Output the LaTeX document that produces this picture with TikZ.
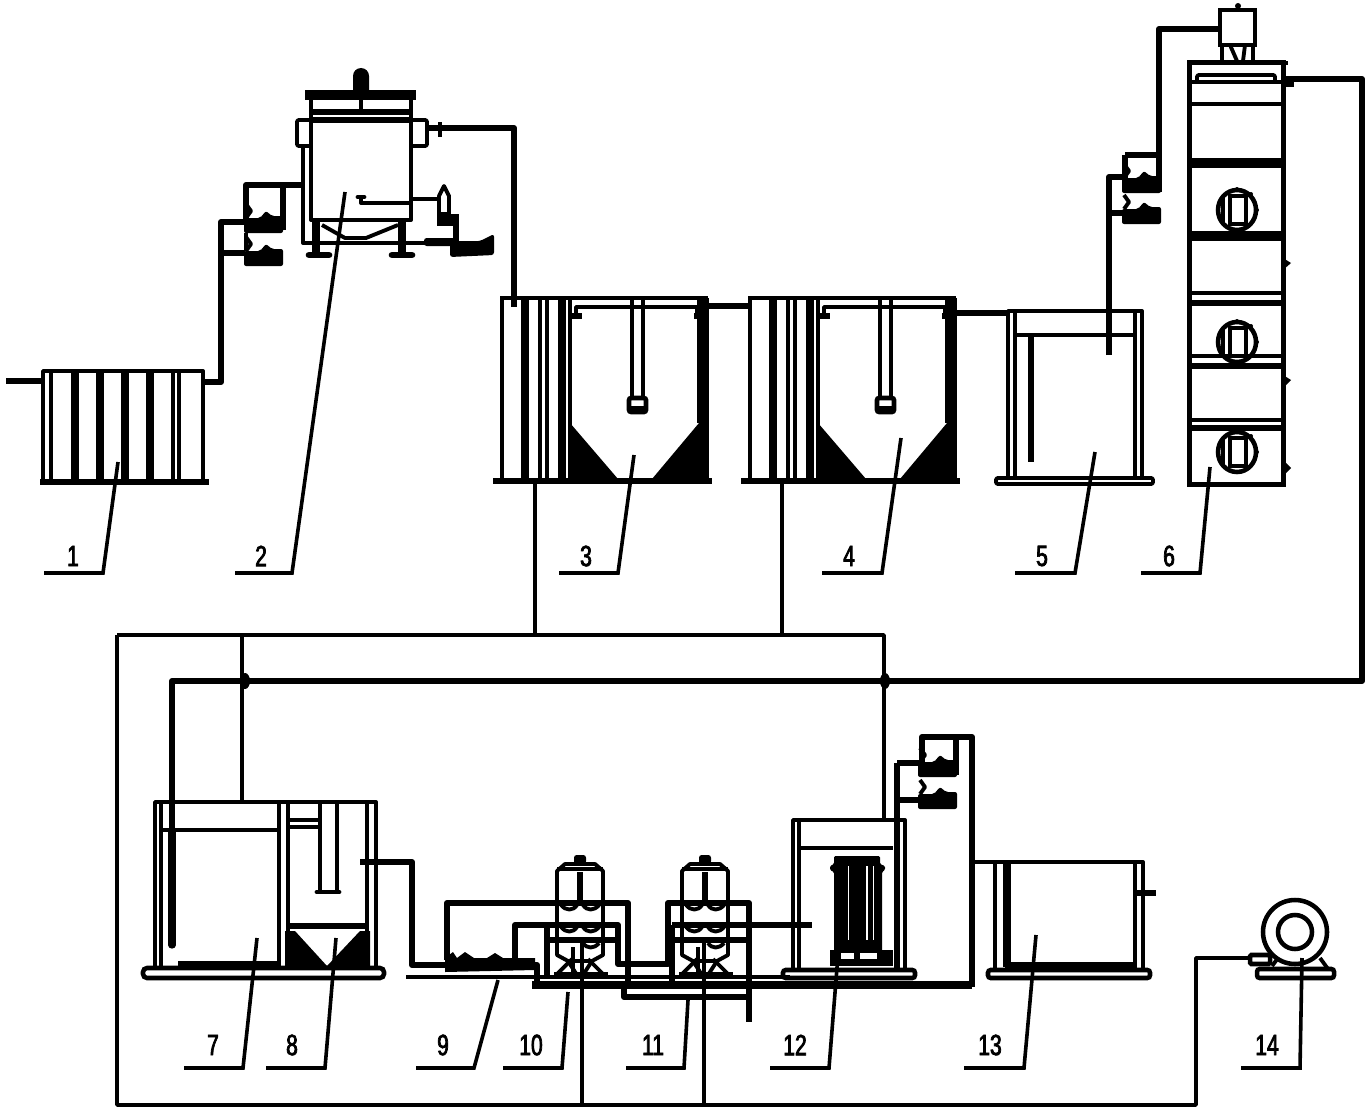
\documentclass[tikz,border=0pt]{standalone}
\usepackage{fontspec}
\newfontfamily\tagfont[FakeBold=2.5,FakeStretch=0.72]{Liberation Sans}

\tikzset{
  every pic/.style={yscale=-1},
  wall/.style={line width=2.9pt,line join=round},
  pipe/.style={line width=4.4pt,line join=round},
  heavy/.style={line width=6pt},
  netline/.style={line width=2.7pt,line join=round},
  leader/.style={line width=2.7pt},
  tag/.style={inner sep=0.75pt,font=\tagfont\fontsize{22}{22}\selectfont},
  settler/.pic={
    %Walls of the channel part
    \draw [wall] (0,0) -- (208,0) ;
    \draw [wall] (2,0) -- (2,183) ;
    \draw [heavy] (25,0) -- (25,183) ;
    \draw [wall] (40,0) -- (40,183) ;
    \draw [wall] (47,0) -- (47,183) ;
    \draw [heavy] (62,0) -- (62,183) ;
    \draw [wall] (70,0) -- (70,183) ;
    \draw [heavy] (205,0) -- (205,183) ;
    \draw [wall] (199,0) -- (199,125) ;
    %Hopper
    \fill (70,125) -- (118,181) -- (70,181) -- cycle ;
    \fill (199,125) -- (152,181) -- (207,181) -- (207,125) -- cycle ;
    %Launder
    \draw [wall] (76,19) -- (76,9) -- (197,9) -- (197,19) ;
    \draw [pipe] (72,18) -- (82,18) ;
    \draw [pipe] (194,18) -- (204,18) ;
    %Centre well
    \draw [wall] (132,0) -- (132,100) ;
    \draw [wall] (143,0) -- (143,100) ;
    \draw [line width=3.4pt,fill=white,rounded corners=1.5pt] (129,100) rectangle (146,114) ;
    \fill (129,108) rectangle (146,114) ;
    %Base
    \draw [line width=5pt] (-7,183) -- (212,183) ;
  },
  dosepump/.pic={
    \fill [rounded corners=1.5pt] (0,0) -- (16,0) -- (22,-7) -- (28,-2) -- (39,-2) -- (39,15) -- (0,15) -- cycle ;
    \draw [wall] (2,0) -- (7,-7) -- (2,-14) ;
  },
  mixdisc/.pic={
    \draw [line width=3.4pt] (0,0) ellipse (19 and 20) ;
    \draw [line width=3.4pt,fill=white] (-7,-14) rectangle (9,14) ;
    \draw [wall] (-14,-12) -- (-14,12) ;
    \fill (0,-21) circle (2) ;
    \fill (14,-16) circle (2) ;
    \fill (20,0) circle (2) ;
  },
  filtervessel/.pic={
    %Shell
    \draw [wall] (-23,0) -- (-23,-84) -- (-15,-91) -- (15,-91) -- (23,-84) -- (23,0) -- (12,6) -- (-12,6) -- cycle ;
    \draw [wall] (-23,-86) -- (23,-86) ;
    \fill [rounded corners=2pt] (-6,-100) rectangle (6,-91) ;
    \draw [pipe] (0,-83) -- (0,-54) ;
    %Ribs
    \draw [wall] (-19,-50) .. controls (-14,-44) and (-7,-44) .. (-3,-50) ;
    \draw [wall] (3,-50) .. controls (7,-44) and (14,-44) .. (19,-50) ;
    \draw [wall] (-19,-28) .. controls (-14,-22) and (-7,-22) .. (-3,-28) ;
    \draw [wall] (3,-28) .. controls (7,-22) and (14,-22) .. (19,-28) ;
    \draw [wall] (3,-12) .. controls (7,-6) and (14,-6) .. (19,-12) ;
    %Stand
    \draw [wall] (-8,4) -- (-24,20) ;
    \draw [wall] (8,4) -- (24,20) ;
    \draw [wall] (-12,6) -- (-3,20) ;
    \draw [wall] (12,6) -- (3,20) ;
    \draw [wall] (-26,19) -- (28,19) ;
    \draw [wall] (-7,-8) -- (-7,24) ;
  }
}

\begin{document}
\begin{tikzpicture}[x=0.75pt,y=0.75pt,yscale=-1,xscale=1]
\path [use as bounding box] (0,0) rectangle (1370,1113);

%Unit 1: screen
\draw [wall] (43,482) -- (43,371) -- (203,371) -- (203,482) ;
\draw [wall] (51,371) -- (51,482) ;
\draw [heavy] (75,371) -- (75,482) ;
\draw [heavy] (100,371) -- (100,482) ;
\draw [heavy] (125,371) -- (125,482) ;
\draw [heavy] (150,371) -- (150,482) ;
\draw [wall] (173,371) -- (173,482) ;
\draw [wall] (179,371) -- (179,482) ;
\draw [line width=5pt] (40,482) -- (209,482) ;
\draw [pipe] (6,381) -- (43,381) ;
\draw [pipe] (203,382) -- (221,382) -- (221,222) -- (245,222) ;
\draw [pipe] (221,253) -- (245,253) ;

%Unit 2: reactor with stirrer
\fill (353,92) -- (353,76) arc (180:360:8) -- (369,92) -- cycle ;
\draw [line width=8pt] (305,95) -- (416,95) ;
\draw [wall] (311,95) -- (311,220) -- (411,220) -- (411,95) ;
\draw [wall] (361,95) -- (361,112) ;
\draw [line width=4pt] (311,112) -- (411,112) ;
\draw [line width=5pt] (311,120) -- (411,120) ;
\draw [wall,rounded corners=1.5pt] (311,120) -- (297,120) -- (297,146) -- (311,146) ;
\draw [wall,rounded corners=1.5pt] (411,120) -- (427,120) -- (427,146) -- (411,146) ;
\draw [wall] (303,146) -- (303,243) -- (480,243) ;
\draw [heavy] (316,222) -- (316,255) ;
\draw [heavy] (402,222) -- (402,255) ;
\draw [line width=5pt,line cap=round] (309,255) -- (329,255) ;
\draw [line width=5pt,line cap=round] (392,255) -- (412,255) ;
\draw [wall] (322,225) -- (345,238) -- (366,238) -- (398,225) ;
\draw [pipe] (427,128) -- (514,128) -- (514,307) ;
\fill (438,122) rectangle (442,137) ;
\draw [wall] (411,203) -- (361,203) -- (361,198) ;
\draw [line width=3.6pt,line cap=round] (358,197) -- (364,197) ;
\draw [wall] (411,199) -- (438,199) ;
\draw [wall,fill=white] (439,196) -- (444,186) -- (449,196) -- (449,214) -- (439,214) -- cycle ;
\fill (437,214) rectangle (459,226) ;
\draw [pipe] (456,218) -- (456,243) ;
\fill [rounded corners=2pt] (424,238) rectangle (458,246) ;
\fill [rounded corners=2pt] (450,243) -- (480,241) -- (494,234) -- (494,255) -- (450,257) -- cycle ;
\draw [pipe] (246,222) -- (246,185) -- (303,185) ;
\draw [pipe] (283,185) -- (283,230) ;
\path (244,218) pic {dosepump} ;
\path (244,251) pic {dosepump} ;
\draw [wall] (246,233) -- (246,251) ;

%Units 3 and 4: settling tanks
\path (500,298) pic {settler} ;
\path (748,298) pic {settler} ;
\draw [pipe] (708,306) -- (748,306) ;
\draw [pipe] (950,313) -- (1008,313) ;

%Unit 5: tank
\draw [wall] (1008,479) -- (1008,311) -- (1142,311) -- (1142,479) ;
\draw [wall] (1015,311) -- (1015,479) ;
\draw [wall] (1135,311) -- (1135,479) ;
\draw [wall] (1015,335) -- (1135,335) ;
\draw [pipe] (1031,335) -- (1031,462) ;
\draw [wall,rounded corners=1.5pt] (996,478) rectangle (1153,484) ;
\draw [pipe] (1109,355) -- (1109,177) -- (1124,177) ;
\draw [pipe] (1109,213) -- (1124,213) ;
\draw [pipe] (1125,155) -- (1159,155) -- (1159,29) -- (1220,29) ;
\draw [pipe] (1125,155) -- (1125,178) ;
\draw [pipe] (1159,155) -- (1159,192) ;
\path (1122,178) pic {dosepump} ;
\path (1122,209) pic {dosepump} ;

%Unit 6: tower with discs
\draw [line width=3.4pt] (1220,45) -- (1220,10) -- (1255,10) -- (1255,45) -- cycle ;
\fill (1238,6) circle (3) ;
\draw [wall] (1222,45) -- (1222,61) ;
\draw [wall] (1253,45) -- (1253,61) ;
\draw [wall] (1230,45) -- (1237,61) ;
\draw [wall] (1245,45) -- (1243,61) ;
\draw [line width=3.75pt] (1189,484) -- (1189,63) -- (1283,63) -- (1283,484) -- cycle ;
\draw [line width=3.6pt] (1187,63) -- (1288,63) ;
\draw [wall,rounded corners=1.5pt] (1197,82) -- (1197,75) -- (1275,75) -- (1275,82) ;
\draw [wall] (1189,82) -- (1283,82) ;
\draw [wall] (1189,104) -- (1283,104) ;
\draw [line width=7pt] (1189,163) -- (1286,163) ;
\draw [line width=7pt] (1187,236) -- (1286,236) ;
\draw [wall] (1189,293) -- (1283,293) ;
\draw [line width=5pt] (1189,303) -- (1286,303) ;
\draw [wall] (1189,356) -- (1283,356) ;
\draw [line width=5pt] (1189,366) -- (1286,366) ;
\draw [wall] (1189,420) -- (1283,420) ;
\draw [line width=4pt] (1189,428) -- (1286,428) ;
\path (1237,210) pic {mixdisc} ;
\path (1237,342) pic {mixdisc} ;
\path (1237,452) pic {mixdisc} ;
\fill (1283,258) -- (1291,263) -- (1283,270) -- cycle ;
\fill (1283,375) -- (1291,380) -- (1283,388) -- cycle ;
\fill (1283,460) -- (1291,468) -- (1283,476) -- cycle ;
\draw [pipe] (1283,79) -- (1362,79) -- (1362,681) -- (172,681) -- (172,830) ;
\fill (1285,78) rectangle (1294,87) ;
\draw [line width=5.5pt,line cap=round] (172,830) -- (172,945) ;
\fill (245,681) ellipse (5 and 8) ;
\fill (885,681) ellipse (5 and 8) ;

%Sludge and air lines
\draw [netline] (535,482) -- (535,635) ;
\draw [netline] (782,482) -- (782,635) ;
\draw [netline] (117,635) -- (884,635) -- (884,822) ;
\draw [netline] (242,635) -- (242,802) ;
\draw [netline] (117,635) -- (117,1105) -- (1196,1105) -- (1196,958) -- (1250,958) ;
\draw [netline] (582,940) -- (582,1105) ;
\draw [netline] (704,940) -- (704,1105) ;

%Units 7 and 8
\draw [wall] (155,968) -- (155,802) -- (376,802) -- (376,968) ;
\draw [wall] (161,802) -- (161,968) ;
\draw [wall] (279,802) -- (279,968) ;
\draw [wall] (288,802) -- (288,968) ;
\draw [wall] (367,802) -- (367,968) ;
\draw [wall] (161,830) -- (279,830) ;
\draw [wall] (288,820) -- (320,820) ;
\draw [wall] (288,827) -- (320,827) ;
\draw [wall] (320,802) -- (320,892) ;
\draw [wall] (337,802) -- (337,892) ;
\draw [line width=3.6pt,line cap=round] (317,892) -- (339,892) ;
\draw [line width=4.5pt] (288,926) -- (367,926) ;
\fill (285,931) -- (295,931) -- (327,966) -- (360,931) -- (370,931) -- (370,969) -- (285,969) -- cycle ;
\draw [line width=4.5pt] (178,964) -- (279,964) ;
\draw [line width=3.4pt,rounded corners=3pt] (143,968) rectangle (384,978) ;
\draw [pipe] (360,862) -- (412,862) -- (412,965) -- (537,965) -- (537,985) ;

%Unit 9 and pipe work
\draw [wall] (406,977) -- (790,977) ;
\draw [line width=5.5pt] (532,985) -- (972,985) ;
\draw [pipe] (972,987) -- (972,737) -- (922,737) -- (922,762) ;
\fill (445,958) -- (453,952) -- (457,958) -- (465,952) -- (474,958) -- (487,958) -- (495,953) -- (503,958) -- (535,958) -- (535,970) -- (445,972) -- cycle ;
\draw [pipe] (447,960) -- (447,903) -- (628,903) -- (628,985) ;
\draw [pipe] (515,960) -- (515,925) -- (618,925) -- (618,964) -- (668,964) -- (668,903) -- (749,903) -- (749,1022) ;
\draw [pipe] (547,940) -- (618,940) ;
\draw [pipe] (672,940) -- (749,940) ;
\draw [pipe] (624,985) -- (624,997) -- (749,997) ;
\draw [pipe] (672,925) -- (812,925) ;
\draw [pipe] (672,925) -- (672,985) ;
\draw [pipe] (547,925) -- (547,975) ;
\path (580,955) pic {filtervessel} ;
\path (705,955) pic {filtervessel} ;

%Unit 12: membrane tank
\draw [wall] (793,970) -- (793,820) -- (905,820) -- (905,970) ;
\draw [wall] (799,820) -- (799,970) ;
\draw [line width=5pt] (897,763) -- (897,968) ;
\draw [wall] (799,848) -- (893,848) ;
\fill [rounded corners=1pt] (834,856) -- (880,856) -- (880,864) -- (885,866) -- (885,870) -- (882,872) -- (882,952) -- (834,952) -- (834,872) -- (830,870) -- (830,866) -- (834,864) -- cycle ;
\fill [white] (847.5,866) rectangle (849,940) ;
\fill [white] (866,866) rectangle (868,940) ;
\fill [white] (873,866) rectangle (874,940) ;
\fill (830,950) rectangle (893,966) ;
\fill [white] (841,953) rectangle (854,959) ;
\fill [white] (860,953) rectangle (877,959) ;
\draw [line width=3.4pt,rounded corners=2pt] (783,970) rectangle (915,978) ;
\draw [pipe] (897,763) -- (920,763) ;
\draw [pipe] (897,800) -- (920,800) ;
\draw [pipe] (956,737) -- (956,775) ;
\path (918,762) pic {dosepump} ;
\path (918,794) pic {dosepump} ;

%Unit 13: tank
\draw [wall] (972,862) -- (1143,862) -- (1143,970) ;
\draw [wall] (995,862) -- (995,970) ;
\draw [line width=6pt] (1007,862) -- (1007,967) ;
\draw [wall] (1135,862) -- (1135,970) ;
\draw [line width=6pt] (1005,966) -- (1137,966) ;
\draw [line width=3.4pt,rounded corners=2pt] (988,970) rectangle (1150,978) ;
\draw [pipe] (1135,893) -- (1156,893) ;

%Unit 14: blower
\draw [line width=3.4pt] (1295,932) circle (32) ;
\draw [line width=3.4pt] (1295,932) circle (17) ;
\draw [line width=3.4pt,fill=white,rounded corners=1pt] (1250,955) rectangle (1270,964) ;
\draw [wall] (1278,958) -- (1272,966) ;
\draw [wall] (1320,958) -- (1328,969) ;
\draw [line width=3.4pt,rounded corners=2pt] (1257,969) rectangle (1334,978) ;

% Text Node
\node [tag] (tagone) at (73,556) {1};
\coordinate (tiptagone) at (118,462);
\coordinate (endtagone) at (103,573);
\coordinate (starttagone) at (44,573);
\draw [leader] (starttagone) -- (endtagone) -- (tiptagone) ;
% Text Node
\node [tag] (tagtwo) at (261,556) {2};
\coordinate (tiptagtwo) at (345,192);
\coordinate (endtagtwo) at (292,573);
\coordinate (starttagtwo) at (235,573);
\draw [leader] (starttagtwo) -- (endtagtwo) -- (tiptagtwo) ;
% Text Node
\node [tag] (tagthree) at (586,556) {3};
\coordinate (tiptagthree) at (634,455);
\coordinate (endtagthree) at (618,573);
\coordinate (starttagthree) at (559,573);
\draw [leader] (starttagthree) -- (endtagthree) -- (tiptagthree) ;
% Text Node
\node [tag] (tagfour) at (849,556) {4};
\coordinate (tiptagfour) at (901,438);
\coordinate (endtagfour) at (882,573);
\coordinate (starttagfour) at (822,573);
\draw [leader] (starttagfour) -- (endtagfour) -- (tiptagfour) ;
% Text Node
\node [tag] (tagfive) at (1042,556) {5};
\coordinate (tiptagfive) at (1095,452);
\coordinate (endtagfive) at (1075,573);
\coordinate (starttagfive) at (1015,573);
\draw [leader] (starttagfive) -- (endtagfive) -- (tiptagfive) ;
% Text Node
\node [tag] (tagsix) at (1169,556) {6};
\coordinate (tiptagsix) at (1210,467);
\coordinate (endtagsix) at (1200,573);
\coordinate (starttagsix) at (1141,573);
\draw [leader] (starttagsix) -- (endtagsix) -- (tiptagsix) ;
% Text Node
\node [tag] (tagseven) at (213,1045) {7};
\coordinate (tiptagseven) at (257,938);
\coordinate (endtagseven) at (243,1068);
\coordinate (starttagseven) at (184,1068);
\draw [leader] (starttagseven) -- (endtagseven) -- (tiptagseven) ;
% Text Node
\node [tag] (tageight) at (292,1045) {8};
\coordinate (tiptageight) at (336,938);
\coordinate (endtageight) at (325,1068);
\coordinate (starttageight) at (266,1068);
\draw [leader] (starttageight) -- (endtageight) -- (tiptageight) ;
% Text Node
\node [tag] (tagnine) at (443,1045) {9};
\coordinate (tiptagnine) at (498,980);
\coordinate (endtagnine) at (474,1068);
\coordinate (starttagnine) at (416,1068);
\draw [leader] (starttagnine) -- (endtagnine) -- (tiptagnine) ;
% Text Node
\node [tag] (tagten) at (531,1045) {10};
\coordinate (tiptagten) at (568,992);
\coordinate (endtagten) at (562,1068);
\coordinate (starttagten) at (503,1068);
\draw [leader] (starttagten) -- (endtagten) -- (tiptagten) ;
% Text Node
\node [tag] (tageleven) at (653,1045) {11};
\coordinate (tiptageleven) at (688,1000);
\coordinate (endtageleven) at (684,1068);
\coordinate (starttageleven) at (626,1068);
\draw [leader] (starttageleven) -- (endtageleven) -- (tiptageleven) ;
% Text Node
\node [tag] (tagtwelve) at (795,1045) {12};
\coordinate (tiptagtwelve) at (838,955);
\coordinate (endtagtwelve) at (829,1068);
\coordinate (starttagtwelve) at (770,1068);
\draw [leader] (starttagtwelve) -- (endtagtwelve) -- (tiptagtwelve) ;
% Text Node
\node [tag] (tagthirteen) at (990,1045) {13};
\coordinate (tiptagthirteen) at (1036,935);
\coordinate (endtagthirteen) at (1024,1068);
\coordinate (starttagthirteen) at (964,1068);
\draw [leader] (starttagthirteen) -- (endtagthirteen) -- (tiptagthirteen) ;
% Text Node
\node [tag] (tagfourteen) at (1267,1045) {14};
\coordinate (tiptagfourteen) at (1302,958);
\coordinate (endtagfourteen) at (1300,1068);
\coordinate (starttagfourteen) at (1241,1068);
\draw [leader] (starttagfourteen) -- (endtagfourteen) -- (tiptagfourteen) ;

\end{tikzpicture}
\end{document}
